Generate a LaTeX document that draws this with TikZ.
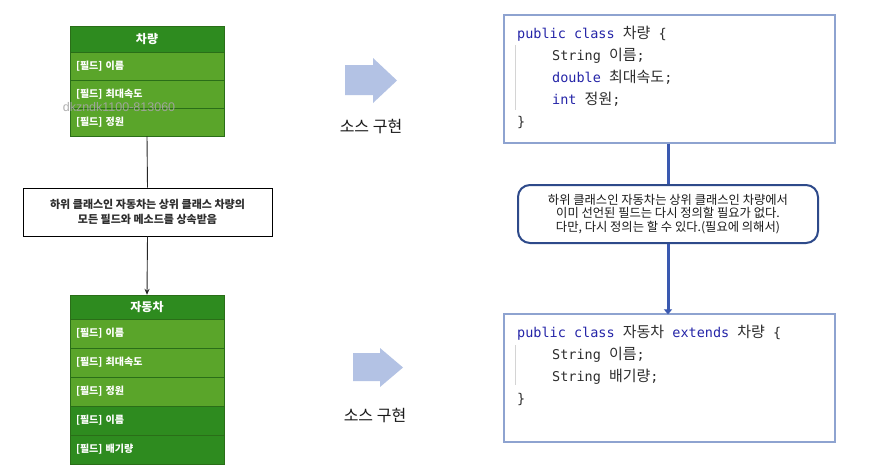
\documentclass[tikz,border=0pt]{standalone}
\usepackage{fontspec}
\setmainfont{Noto Sans CJK KR}
\setmonofont{DejaVu Sans Mono}
\newfontfamily\kr{Noto Sans CJK KR}
\newfontfamily\wmfont{Liberation Sans}
\usetikzlibrary{arrows.meta}

\definecolor{gdark}{HTML}{2E8B1F}
\definecolor{glight}{HTML}{5AA52A}
\definecolor{gline}{HTML}{2A6E18}
\definecolor{arrowfill}{HTML}{B3C2E4}
\definecolor{cbox}{HTML}{8EA3D0}
\definecolor{conn}{HTML}{3A59B0}
\definecolor{rboxc}{HTML}{2E4A8A}
\definecolor{kwc}{HTML}{2525A8}
\definecolor{codetxt}{HTML}{2E2E2E}
\definecolor{guide}{HTML}{D4D4D4}
\definecolor{wmc}{HTML}{A6A6A6}

\newcommand\kwd[1]{\textcolor{kwc}{#1}}
\newcommand\krc{\kr\fontsize{15}{16}\selectfont}

\tikzset{
 hdr/.style={draw=gline, fill=gdark, minimum width=154pt, text=white,
   font=\fontsize{12}{14}\selectfont\bfseries, inner sep=0pt},
 fld/.style={draw=gline, fill=glight, text width=142pt, align=left, text=white,
   font=\fontsize{10}{12}\selectfont\bfseries, inner xsep=6pt, inner ysep=0pt,
   minimum height=28pt},
 fldd/.style={fld, fill=gdark},
 midbox/.style={draw=black, line width=0.8pt, minimum width=249pt, minimum height=48pt,
   align=center, text=codetxt, font=\fontsize{11}{14.5}\selectfont\bfseries},
 codebox/.style={draw=cbox, line width=1.3pt, minimum width=331pt, minimum height=128pt},
 codeline/.style={anchor=base west, inner sep=0pt, text=codetxt,
   font=\ttfamily\fontsize{13.5}{16}\selectfont},
 notebox/.style={draw=rboxc, line width=2pt, rounded corners=12pt, minimum width=300pt,
   minimum height=58pt, align=center, text=black!90,
   font=\fontsize{12.3}{13.5}\selectfont},
 blockarrow/.style={fill=arrowfill, draw=none},
 srclabel/.style={font=\fontsize{16}{18}\selectfont, text=black!90},
 blackconn/.style={draw=black!85, line width=0.9pt},
 blueconn/.style={draw=conn, line width=3pt},
}

\begin{document}
\begin{tikzpicture}[x=1pt,y=-1pt]
\useasboundingbox[fill=white] (0,0) rectangle (871,475);

% ---- left: class 차량
\node[hdr, minimum height=26pt] (h1) at (147,39) {차량};
\node[fld] (f11) at (147,66) {[필드] 이름};
\node[fld] (f12) at (147,94) {[필드] 최대속도};
\node[fld] (f13) at (147,122) {[필드] 정원};

% ---- middle note
\node[midbox] (mid) at (147.5,212) {하위 클래스인 자동차는 상위 클래스 차량의\\모든 필드와 메소드를 상속받음};

% ---- left: class 자동차
\node[hdr, minimum height=24pt] (h2) at (147,307) {자동차};
\node[fld, minimum height=29pt] (f21) at (147,333.5) {[필드] 이름};
\node[fld, minimum height=29pt] (f22) at (147,362.5) {[필드] 최대속도};
\node[fld, minimum height=29pt] (f23) at (147,391.5) {[필드] 정원};
\node[fldd, minimum height=29pt] (f24) at (147,420.5) {[필드] 이름};
\node[fldd, minimum height=29pt] (f25) at (147,449.5) {[필드] 배기량};

\draw[blackconn] (f13.south) -- (mid.north);
\draw[blackconn, -{Stealth[length=6pt,width=5pt]}] (mid.south) -- (h2.north);

% watermark
\node[font=\wmfont\fontsize{12.5}{14}\selectfont, text=wmc, opacity=0.9] (wm) at (119,107) {dkzndk1100-813060};

% ---- block arrows
\fill[blockarrow] (345,65) -- (373,65) -- (373,58) -- (397,80.5) -- (373,103) -- (373,95) -- (345,95) -- cycle;
\node[srclabel] (s1) at (371,127) {소스 구현};
\fill[blockarrow] (353,353) -- (380,353) -- (380,348) -- (403,367.5) -- (380,387) -- (380,381) -- (353,381) -- cycle;
\node[srclabel] (s2) at (375,416) {소스 구현};

% ---- right: code boxes
\node[codebox] (code1) at (669.5,79) {};
\node[codeline] (c1a) at (517,38) {\kwd{public class} {\krc 차량} \{};
\node[codeline] (c1b) at (552,60) {String {\krc 이름};};
\node[codeline] (c1c) at (552,82.5) {\kwd{double} {\krc 최대속도};};
\node[codeline] (c1d) at (552,104.5) {\kwd{int} {\krc 정원};};
\node[codeline] (c1e) at (517,126) {\}};
\draw[guide, line width=1pt] (515,45) -- (515,110);

\node[notebox] (note) at (668,214) {하위 클래스인 자동차는 상위 클래스인 차량에서\\이미 선언된 필드는 다시 정의할 필요가 없다.\\다만, 다시 정의는 할 수 있다.(필요에 의해서)};

\node[codebox] (code2) at (669.5,378) {};
\node[codeline] (c2a) at (517,337) {\kwd{public class} {\krc 자동차} \kwd{extends} {\krc 차량} \{};
\node[codeline] (c2b) at (552,359.5) {String {\krc 이름};};
\node[codeline] (c2c) at (552,381.5) {String {\krc 배기량};};
\node[codeline] (c2d) at (517,403) {\}};
\draw[guide, line width=1pt] (515,345) -- (515,385);

\draw[blueconn] (note.north |- code1.south) -- (note.north);
\draw[blueconn, -{Triangle[length=5pt,width=8pt]}, shorten >=-1pt] (note.south) -- (note.south |- code2.north);
\end{tikzpicture}
\end{document}
